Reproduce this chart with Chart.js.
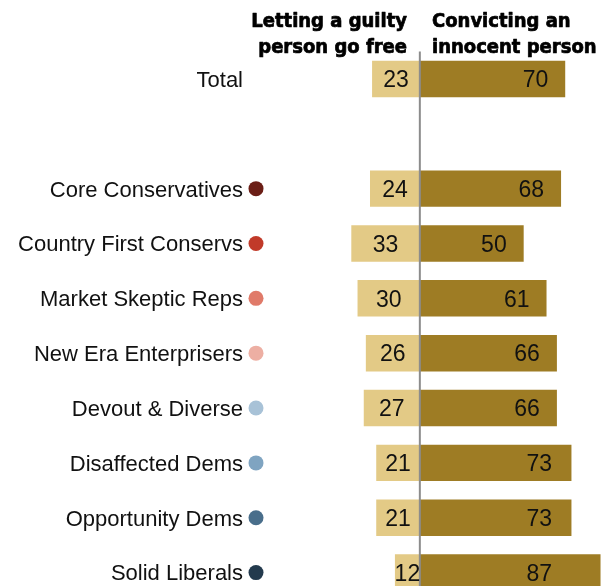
<!DOCTYPE html>
<html>
<head>
<meta charset="utf-8">
<script src="https://cdn.jsdelivr.net/npm/chart.js@4"></script>
<style>
html,body{margin:0;padding:0;background:#fff;overflow:hidden;width:608px;height:586px;}
canvas{display:block;}
</style>
</head>
<body>
<canvas id="c" width="608" height="600"></canvas>
<script>
const categories = ['Total', '', 'Core Conservatives', 'Country First Conservs', 'Market Skeptic Reps', 'New Era Enterprisers', 'Devout & Diverse', 'Disaffected Dems', 'Opportunity Dems', 'Solid Liberals'];
const guiltyFree = [23, null, 24, 33, 30, 26, 27, 21, 21, 12];
const convictInnocent = [70, null, 68, 50, 61, 66, 66, 73, 73, 87];
const dotColors = [null, null, '#6B1E16', '#C13A29', '#E07A69', '#EDAFA3', '#A8C2D7', '#7FA4C1', '#496E8B', '#233A4D'];
const headerLeft = ['Letting a guilty', 'person go free'];
const headerRight = ['Convicting an', 'innocent person'];

const LIGHT = '#E3CA86';
const DARK = '#9E7C24';
const FONT = '"Liberation Sans", Arial, sans-serif';

const overlay = {
  id: 'overlay',
  afterDatasetsDraw(chart) {
    const ctx = chart.ctx;
    const xs = chart.scales.x;
    const ys = chart.scales.y;
    const ca = chart.chartArea;
    const x0 = xs.getPixelForValue(0);
    ctx.save();
    // center line
    ctx.strokeStyle = '#8C8C8C';
    ctx.lineWidth = 2;
    ctx.beginPath();
    ctx.moveTo(x0, ca.top);
    ctx.lineTo(x0, ca.bottom);
    ctx.stroke();

    ctx.textBaseline = 'alphabetic';
    categories.forEach((cat, i) => {
      const y = ys.getPixelForValue(i);
      ctx.font = '22px ' + FONT;
      if (cat) {
        ctx.fillStyle = '#111';
        ctx.textAlign = 'right';
        ctx.fillText(cat, 243, y + 7.9);
      }
      if (dotColors[i]) {
        ctx.fillStyle = dotColors[i];
        ctx.beginPath();
        ctx.arc(256, y, 7.5, 0, Math.PI * 2);
        ctx.fill();
      }
      ctx.font = '23px ' + FONT;
      const g = guiltyFree[i];
      const c = convictInnocent[i];
      if (g != null) {
        const xl = xs.getPixelForValue(-g);
        ctx.fillStyle = '#111';
        ctx.textAlign = 'center';
        ctx.fillText(String(g), (xl + x0) / 2, y + 8.2);
      }
      if (c != null) {
        const xr = xs.getPixelForValue(c);
        ctx.fillStyle = '#111';
        ctx.textAlign = 'right';
        ctx.fillText(String(c), Math.min(xr - 17, 552), y + 8.2);
      }
    });

    // headers
    ctx.font = 'bold 20px "DejaVu Sans Condensed", "DejaVu Sans", sans-serif';
    ctx.fillStyle = '#000';
    ctx.strokeStyle = '#000';
    ctx.lineWidth = 0.7;
    ctx.lineJoin = 'round';
    const hdr = (t, x, y) => { ctx.fillText(t, x, y); ctx.strokeText(t, x, y); };
    ctx.textAlign = 'right';
    hdr(headerLeft[0], 407, 27);
    hdr(headerLeft[1], 407, 53);
    ctx.textAlign = 'left';
    hdr(headerRight[0], 432, 27);
    hdr(headerRight[1], 432, 53);
    ctx.restore();
  }
};

new Chart(document.getElementById('c'), {
  type: 'bar',
  data: {
    labels: categories,
    datasets: [
      {
        label: headerLeft.join(' '),
        data: guiltyFree.map(v => v == null ? null : -v),
        backgroundColor: LIGHT,
        barPercentage: 0.665,
        categoryPercentage: 1
      },
      {
        label: headerRight.join(' '),
        data: convictInnocent,
        backgroundColor: DARK,
        barPercentage: 0.665,
        categoryPercentage: 1
      }
    ]
  },
  options: {
    indexAxis: 'y',
    responsive: false,
    devicePixelRatio: 1,
    animation: false,
    layout: { padding: { left: 262, right: 0, top: 51.5, bottom: 0 } },
    scales: {
      x: { type: 'linear', min: -76, max: 90.6, stacked: true, display: false },
      y: { stacked: true, display: false }
    },
    plugins: { legend: { display: false }, tooltip: { enabled: false } }
  },
  plugins: [overlay]
});
</script>
</body>
</html>
